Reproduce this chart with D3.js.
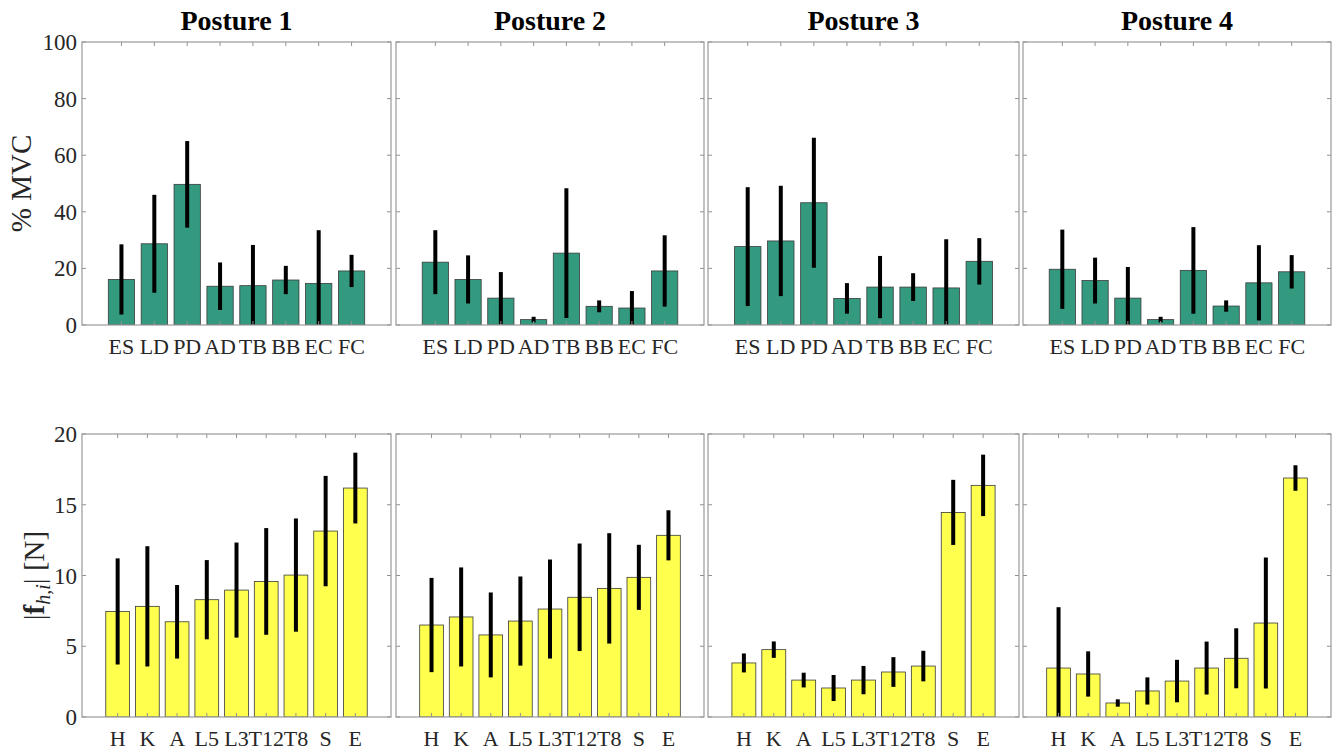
<!DOCTYPE html>
<html>
<head>
<meta charset="utf-8">
<script src="https://cdn.jsdelivr.net/npm/d3@7"></script>
<style>
	body { margin: 0; background: #fff; }
	text { font-family: "Liberation Serif", "Times New Roman", serif; fill: #262626; }
</style>
</head>
<body>
<svg id="chart" width="1338" height="752"></svg>
<script>
const postures = ["Posture 1", "Posture 2", "Posture 3", "Posture 4"];
const muscles = ["ES", "LD", "PD", "AD", "TB", "BB", "EC", "FC"];
const joints = ["H", "K", "A", "L5", "L3", "T12", "T8", "S", "E"];

// % MVC, one row per posture
const mvcMean = [
	[16.1, 28.7, 49.7, 13.7, 13.9, 15.9, 14.7, 19.1],
	[22.2, 16.1, 9.5, 1.9, 25.4, 6.6, 6.0, 19.1],
	[27.7, 29.7, 43.2, 9.4, 13.4, 13.4, 13.1, 22.5],
	[19.7, 15.7, 9.5, 1.9, 19.3, 6.7, 14.9, 18.8]
];
const mvcErr = [
	[12.4, 17.3, 15.3, 8.4, 14.4, 5.0, 18.8, 5.7],
	[11.3, 8.5, 9.2, 1.0, 22.9, 2.1, 6.0, 12.6],
	[21.0, 19.5, 23.0, 5.4, 11.0, 4.9, 17.2, 8.2],
	[14.0, 8.1, 11.0, 1.0, 15.3, 2.0, 13.3, 5.9]
];

// |f_h,i| [N], one row per posture
const forceMean = [
	[7.46, 7.82, 6.73, 8.29, 8.97, 9.58, 10.03, 13.14, 16.18],
	[6.50, 7.07, 5.80, 6.78, 7.63, 8.46, 9.09, 9.87, 12.84],
	[3.82, 4.76, 2.61, 2.05, 2.61, 3.18, 3.60, 14.46, 16.37],
	[3.46, 3.04, 0.99, 1.84, 2.54, 3.46, 4.15, 6.64, 16.89]
];
const forceErr = [
	[3.75, 4.25, 2.6, 2.8, 3.36, 3.77, 4.0, 3.9, 2.5],
	[3.33, 3.5, 3.0, 3.15, 3.5, 3.8, 3.9, 2.3, 1.77],
	[0.67, 0.58, 0.52, 0.92, 1.0, 1.05, 1.08, 2.3, 2.17],
	[4.3, 1.6, 0.26, 0.96, 1.5, 1.87, 2.12, 4.63, 0.9]
];

const mvcTicks = [0, 20, 40, 60, 80, 100];
const forceTicks = [0, 5, 10, 15, 20];

const svg = d3.select("#chart");
const lefts = [82, 396, 708, 1023];
const rights = [391, 704, 1019, 1331];

let rows = [
	{ top: 42, bottom: 325, cats: muscles, mean: mvcMean, err: mvcErr, ticks: mvcTicks, max: 100, fill: "#339a80" },
	{ top: 434, bottom: 717, cats: joints, mean: forceMean, err: forceErr, ticks: forceTicks, max: 20, fill: "#ffff4d" }
];

rows.forEach((row, r) => {
	let y = d3.scaleLinear().domain([0, row.max]).range([row.bottom, row.top]);

	postures.forEach((posture, p) => {
		let x = d3.scaleBand()
			.domain(row.cats)
			.range([lefts[p], rights[p]])
			.paddingInner(0.2)
			.paddingOuter(0.8);

		let g = svg.append("g");
		let clipId = `clip-${r}-${p}`;
		g.append("clipPath").attr("id", clipId)
			.append("rect")
			.attr("x", lefts[p]).attr("y", row.top)
			.attr("width", rights[p] - lefts[p]).attr("height", row.bottom - row.top);

		let data = row.cats.map((c, i) => ({ c: c, m: row.mean[p][i], e: row.err[p][i] }));

		let plot = g.append("g").attr("clip-path", `url(#${clipId})`);
		plot.selectAll("rect.bar")
			.data(data)
			.join("rect")
			.attr("class", "bar")
			.attr("x", d => x(d.c))
			.attr("width", x.bandwidth())
			.attr("y", d => y(d.m))
			.attr("height", d => y(0) - y(d.m))
			.attr("fill", row.fill)
			.attr("stroke", "#3a3a3a")
			.attr("stroke-width", 0.8);

		plot.selectAll("line.err")
			.data(data)
			.join("line")
			.attr("class", "err")
			.attr("x1", d => x(d.c) + x.bandwidth() / 2)
			.attr("x2", d => x(d.c) + x.bandwidth() / 2)
			.attr("y1", d => y(d.m + d.e))
			.attr("y2", d => y(d.m - d.e))
			.attr("stroke", "#000")
			.attr("stroke-width", 4);

		// inward ticks on all four sides
		let tickLen = 4;
		let ticks = g.append("g").attr("stroke", "#909090").attr("stroke-width", 1);
		row.cats.forEach(c => {
			let cx = x(c) + x.bandwidth() / 2;
			ticks.append("line").attr("x1", cx).attr("x2", cx).attr("y1", row.top).attr("y2", row.top + tickLen);
			ticks.append("line").attr("x1", cx).attr("x2", cx).attr("y1", row.bottom).attr("y2", row.bottom - tickLen);
		});
		row.ticks.forEach(t => {
			ticks.append("line").attr("x1", lefts[p]).attr("x2", lefts[p] + tickLen).attr("y1", y(t)).attr("y2", y(t));
			ticks.append("line").attr("x1", rights[p]).attr("x2", rights[p] - tickLen).attr("y1", y(t)).attr("y2", y(t));
		});

		g.append("rect")
			.attr("x", lefts[p]).attr("y", row.top)
			.attr("width", rights[p] - lefts[p]).attr("height", row.bottom - row.top)
			.attr("fill", "none")
			.attr("stroke", "#999")
			.attr("stroke-width", 1.2);

		g.selectAll("text.xlab")
			.data(row.cats)
			.join("text")
			.attr("class", "xlab")
			.attr("x", c => x(c) + x.bandwidth() / 2)
			.attr("y", row.bottom + 29)
			.attr("text-anchor", "middle")
			.attr("font-size", 22)
			.text(c => c);

		if (p == 0) {
			g.selectAll("text.ylab")
				.data(row.ticks)
				.join("text")
				.attr("class", "ylab")
				.attr("x", lefts[p] - 5)
				.attr("y", t => y(t) + 8)
				.attr("text-anchor", "end")
				.attr("font-size", 23)
				.text(t => t);
		}

		if (r == 0) {
			g.append("text")
				.attr("x", (lefts[p] + rights[p]) / 2)
				.attr("y", 30)
				.attr("text-anchor", "middle")
				.attr("font-size", 28)
				.attr("font-weight", "bold")
				.style("fill", "#000")
				.text(posture);
		}
	});
});

// y axis titles
svg.append("text")
	.attr("transform", `translate(31, ${(rows[0].top + rows[0].bottom) / 2}) rotate(-90)`)
	.attr("text-anchor", "middle")
	.attr("font-size", 29)
	.text("% MVC");

let forceLabel = svg.append("text")
	.attr("transform", `translate(44, ${(rows[1].top + rows[1].bottom) / 2}) rotate(-90)`)
	.attr("text-anchor", "middle")
	.attr("font-size", 29);
forceLabel.append("tspan").text("|");
forceLabel.append("tspan").attr("font-weight", "bold").text("f");
forceLabel.append("tspan").attr("font-style", "italic").attr("font-size", 20).attr("dy", 6).text("h,i");
forceLabel.append("tspan").attr("dy", -6).text("|");
forceLabel.append("tspan").text(" [N]");
</script>
</body>
</html>
